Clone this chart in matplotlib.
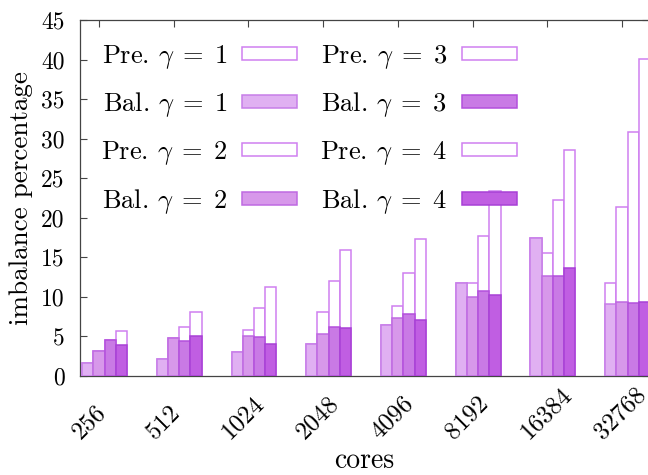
import numpy as np
import matplotlib
matplotlib.use('Agg')
import matplotlib.pyplot as plt

plt.rcParams['font.family'] = 'serif'
plt.rcParams['font.serif'] = ['cmr10', 'DejaVu Serif']
plt.rcParams['mathtext.fontset'] = 'cm'
plt.rcParams['axes.unicode_minus'] = False

cores = ['256', '512', '1024', '2048', '4096', '8192', '16384', '32768']

# imbalance percentage, before (Pre.) and after (Bal.) balancing
pre1 = [1.6, 2.2, 3.0, 4.0, 6.4, 11.8, 17.5, 11.8]
bal1 = [1.6, 2.2, 3.0, 4.0, 6.4, 11.8, 17.5, 9.1]
pre2 = [3.1, 4.8, 5.8, 8.1, 8.8, 11.8, 15.6, 21.4]
bal2 = [3.1, 4.8, 5.1, 5.3, 7.3, 10.0, 12.6, 9.3]
pre3 = [4.6, 6.2, 8.6, 12.0, 13.0, 17.7, 22.2, 30.9]
bal3 = [4.6, 4.4, 4.9, 6.2, 7.9, 10.8, 12.6, 9.2]
pre4 = [5.7, 8.1, 11.2, 15.9, 17.3, 23.4, 28.6, 40.1]
bal4 = [3.9, 5.0, 4.1, 6.1, 7.1, 10.3, 13.7, 9.4]

pre = [pre1, pre2, pre3, pre4]
bal = [bal1, bal2, bal3, bal4]
bal_fill = ['#e0b0f2', '#d798ea', '#c97ae5', '#c05ee2']
bal_edge = ['#c77ee8', '#bf6ae2', '#b350dc', '#a840d6']
pre_edge = '#cf80f0'

W = 648.0
H = 475.0
fig = plt.figure(figsize=(W / 100, H / 100), dpi=100)
# right border of the original sits just past the image edge
ax = fig.add_axes([80 / W, (H - 376) / H, 569 / W, 356 / H])

X = np.arange(len(cores))
bw = 0.15
for k in range(4):
    xs = X + (k - 1) * bw
    ax.bar(xs, pre[k], bw, color='white', edgecolor=pre_edge, linewidth=1.1,
           label=r'Pre. $\gamma\;=\;%d$' % (k + 1), zorder=2)
    ax.bar(xs, bal[k], bw, color=bal_fill[k], edgecolor=bal_edge[k], linewidth=1.1,
           label=r'Bal. $\gamma\;=\;%d$' % (k + 1), zorder=3)

ax.set_xlim(-0.225, 7.362)
ax.set_ylim(0, 45)
ax.set_yticks(range(0, 46, 5))

# tick marks sit on the groups; the rotated labels start below-left of them
ax.set_xticks(X, minor=True)
ax.set_xticks(X - 0.253)
ax.set_xticklabels(cores, rotation=45, ha='left', va='baseline',
                   rotation_mode='anchor', fontsize=18)
for lab in ax.get_yticklabels():
    lab.set_fontsize(17)

ax.tick_params(which='both', direction='in', length=5, width=0.8, color='#444444',
               top=True, right=True)
ax.tick_params(axis='x', which='major', length=0, pad=46)
ax.tick_params(axis='y', pad=11)
for s in ax.spines.values():
    s.set_color('#444444')
    s.set_linewidth(0.9)

ax.set_ylabel('imbalance percentage', fontsize=19.5)
ax.set_xlabel('cores', fontsize=20)
ax.xaxis.set_label_coords(0.5, -0.2)
ax.yaxis.set_label_coords(-0.083, 0.5)

ax.legend(ncol=2, loc='upper left', bbox_to_anchor=(0.0, 0.996), frameon=False,
          fontsize=19, markerfirst=False, handlelength=2.08, handleheight=0.38,
          handletextpad=0.57, columnspacing=0.87, labelspacing=0.75, borderpad=0.3)

plt.savefig('out.png', dpi=100)
